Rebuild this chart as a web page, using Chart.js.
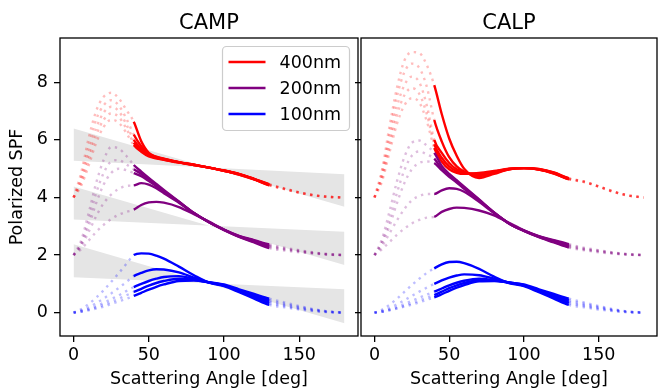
<!DOCTYPE html>
<html>
<head>
<meta charset="utf-8">
<script src="https://cdn.jsdelivr.net/npm/chart.js@4.4.1/dist/chart.umd.min.js"></script>
<style>
  body { margin: 0; background: #fff; }
  #wrap { position: relative; width: 658px; height: 390px; }
  canvas { position: absolute; top: 0; }
</style>
</head>
<body>
<div id="wrap">
  <canvas id="camp" width="360" height="390" style="left:0px"></canvas>
  <canvas id="calp" width="318" height="390" style="left:340px"></canvas>
</div>
<script>
// scattering angles shared by every curve [deg]
var angles = [0, 5, 10, 15, 20, 25, 30, 35, 40, 45, 50, 55, 60, 70, 80, 90, 100, 110, 120, 130, 140, 150, 160, 170, 180];
var xTicks = [0, 50, 100, 150];
var yTicks = [0, 2, 4, 6, 8];

var sizes = ['400nm', '200nm', '100nm'];
var sizeColors = ['#ff0000', '#800080', '#0000ff'];

// CAMP : 400nm (offset +4)
var campRed = [
    [4, 4.85, 6.05, 7.0, 7.5, 7.64, 7.45, 7.05, 6.63, 5.95, 5.55, 5.42, 5.35, 5.23, 5.14, 5.04, 4.93, 4.8, 4.63, 4.42, 4.29, 4.16, 4.07, 4.02, 4.0],
    [4, 4.7, 5.75, 6.7, 7.2, 7.38, 7.2, 6.75, 6.19, 5.78, 5.52, 5.4, 5.34, 5.23, 5.14, 5.04, 4.93, 4.8, 4.63, 4.43, 4.3, 4.17, 4.07, 4.02, 4.0],
    [4, 4.6, 5.5, 6.4, 6.95, 7.15, 7.0, 6.55, 6.0, 5.7, 5.49, 5.39, 5.33, 5.22, 5.13, 5.04, 4.93, 4.81, 4.64, 4.44, 4.3, 4.17, 4.08, 4.02, 4.0],
    [4, 4.5, 5.3, 6.15, 6.7, 6.92, 6.8, 6.4, 5.9, 5.64, 5.46, 5.37, 5.32, 5.22, 5.13, 5.04, 4.93, 4.81, 4.64, 4.45, 4.31, 4.18, 4.08, 4.02, 4.0],
    [4, 4.4, 5.1, 5.9, 6.45, 6.7, 6.6, 6.25, 5.82, 5.59, 5.43, 5.36, 5.31, 5.21, 5.13, 5.04, 4.94, 4.82, 4.65, 4.46, 4.32, 4.18, 4.08, 4.02, 4.0]
];
// CAMP : 200nm (offset +2)
var campPurple = [
    [2, 2.5, 3.45, 4.5, 5.3, 5.75, 5.7, 5.45, 5.13, 4.9, 4.68, 4.47, 4.26, 3.86, 3.46, 3.14, 2.87, 2.63, 2.44, 2.24, 2.16, 2.1, 2.05, 2.01, 2.0],
    [2, 2.4, 3.2, 4.15, 4.85, 5.25, 5.3, 5.15, 4.98, 4.82, 4.62, 4.43, 4.23, 3.85, 3.46, 3.14, 2.87, 2.64, 2.46, 2.28, 2.19, 2.12, 2.06, 2.02, 2.0],
    [2, 2.35, 3.0, 3.8, 4.45, 4.85, 5.0, 4.95, 4.85, 4.74, 4.57, 4.39, 4.2, 3.84, 3.46, 3.14, 2.88, 2.65, 2.48, 2.31, 2.21, 2.14, 2.07, 2.02, 2.0],
    [2, 2.3, 2.8, 3.35, 3.8, 4.1, 4.3, 4.4, 4.42, 4.5, 4.45, 4.32, 4.15, 3.82, 3.45, 3.15, 2.88, 2.66, 2.5, 2.34, 2.23, 2.15, 2.08, 2.03, 2.0],
    [2, 2.2, 2.5, 2.8, 3.05, 3.25, 3.4, 3.5, 3.58, 3.74, 3.83, 3.85, 3.82, 3.67, 3.42, 3.16, 2.89, 2.67, 2.52, 2.37, 2.26, 2.17, 2.09, 2.03, 2.0]
];
// CAMP : 100nm (no offset)
var campBlue = [
    [0, 0.12, 0.3, 0.52, 0.78, 1.07, 1.37, 1.69, 2.0, 2.06, 2.05, 1.98, 1.88, 1.6, 1.3, 1.04, 0.92, 0.71, 0.49, 0.27, 0.19, 0.11, 0.05, 0.015, 0],
    [0, 0.08, 0.19, 0.33, 0.49, 0.67, 0.86, 1.06, 1.27, 1.38, 1.47, 1.51, 1.5, 1.4, 1.22, 1.05, 0.94, 0.74, 0.53, 0.33, 0.23, 0.14, 0.07, 0.02, 0],
    [0, 0.05, 0.13, 0.23, 0.34, 0.47, 0.6, 0.75, 0.89, 1.0, 1.1, 1.18, 1.24, 1.27, 1.17, 1.05, 0.95, 0.76, 0.57, 0.38, 0.27, 0.17, 0.09, 0.03, 0],
    [0, 0.04, 0.1, 0.18, 0.27, 0.37, 0.48, 0.6, 0.72, 0.83, 0.94, 1.03, 1.1, 1.18, 1.14, 1.05, 0.96, 0.78, 0.61, 0.43, 0.31, 0.2, 0.1, 0.035, 0],
    [0, 0.03, 0.08, 0.14, 0.21, 0.3, 0.39, 0.48, 0.58, 0.69, 0.8, 0.9, 0.98, 1.1, 1.12, 1.06, 0.98, 0.81, 0.65, 0.49, 0.36, 0.23, 0.12, 0.04, 0]
];

// CALP : 400nm
var calpRed = [
    [4, 4.95, 6.45, 7.8, 8.75, 9.05, 9.02, 8.6, 7.9, 6.9, 6.05, 5.45, 5.0, 4.68, 4.82, 4.98, 5.02, 4.97, 4.83, 4.63, 4.54, 4.37, 4.19, 4.06, 4.0],
    [4, 4.85, 6.2, 7.5, 8.35, 8.65, 8.5, 7.85, 6.69, 5.95, 5.4, 5.08, 4.9, 4.75, 4.85, 4.98, 5.02, 4.97, 4.84, 4.64, 4.55, 4.38, 4.2, 4.07, 4.0],
    [4, 4.75, 5.95, 7.15, 7.9, 8.2, 8.0, 7.2, 6.0, 5.55, 5.2, 4.98, 4.86, 4.8, 4.88, 4.99, 5.02, 4.98, 4.85, 4.65, 4.55, 4.38, 4.2, 4.07, 4.0],
    [4, 4.65, 5.75, 6.85, 7.55, 7.8, 7.6, 6.9, 5.85, 5.38, 5.08, 4.92, 4.85, 4.83, 4.9, 4.99, 5.02, 4.98, 4.86, 4.66, 4.56, 4.39, 4.21, 4.07, 4.0],
    [4, 4.55, 5.55, 6.55, 7.2, 7.45, 7.3, 6.65, 5.72, 5.25, 4.98, 4.86, 4.82, 4.85, 4.92, 5.0, 5.02, 4.99, 4.87, 4.67, 4.56, 4.39, 4.21, 4.07, 4.0]
];
// CALP : 200nm
var calpPurple = [
    [2, 2.55, 3.5, 4.55, 5.4, 5.9, 5.98, 5.8, 5.55, 5.1, 4.82, 4.6, 4.38, 3.93, 3.48, 3.1, 2.84, 2.62, 2.44, 2.26, 2.17, 2.1, 2.05, 2.01, 2.0],
    [2, 2.45, 3.2, 4.15, 4.95, 5.45, 5.6, 5.5, 5.35, 5.0, 4.76, 4.55, 4.34, 3.92, 3.48, 3.1, 2.84, 2.63, 2.46, 2.29, 2.19, 2.12, 2.06, 2.02, 2.0],
    [2, 2.4, 3.0, 3.8, 4.5, 4.98, 5.2, 5.25, 5.2, 4.95, 4.72, 4.52, 4.3, 3.9, 3.47, 3.1, 2.85, 2.64, 2.48, 2.32, 2.21, 2.14, 2.07, 2.02, 2.0],
    [2, 2.3, 2.75, 3.2, 3.6, 3.9, 4.05, 4.12, 4.12, 4.25, 4.32, 4.3, 4.2, 3.85, 3.46, 3.1, 2.85, 2.65, 2.5, 2.35, 2.23, 2.15, 2.08, 2.03, 2.0],
    [2, 2.2, 2.45, 2.7, 2.92, 3.1, 3.22, 3.3, 3.33, 3.5, 3.6, 3.65, 3.64, 3.55, 3.38, 3.12, 2.86, 2.66, 2.52, 2.38, 2.26, 2.17, 2.09, 2.03, 2.0]
];
// CALP : 100nm
var calpBlue = [
    [0, 0.1, 0.27, 0.48, 0.72, 0.96, 1.18, 1.38, 1.54, 1.68, 1.76, 1.77, 1.72, 1.52, 1.25, 1.03, 0.92, 0.71, 0.49, 0.27, 0.19, 0.11, 0.05, 0.015, 0],
    [0, 0.06, 0.16, 0.29, 0.43, 0.58, 0.73, 0.87, 1.0, 1.12, 1.22, 1.29, 1.33, 1.3, 1.18, 1.04, 0.94, 0.74, 0.53, 0.33, 0.23, 0.14, 0.07, 0.02, 0],
    [0, 0.04, 0.11, 0.2, 0.3, 0.41, 0.52, 0.63, 0.73, 0.84, 0.95, 1.04, 1.11, 1.18, 1.13, 1.04, 0.95, 0.76, 0.57, 0.38, 0.27, 0.17, 0.09, 0.03, 0],
    [0, 0.03, 0.09, 0.16, 0.24, 0.33, 0.42, 0.52, 0.61, 0.73, 0.85, 0.95, 1.03, 1.13, 1.12, 1.05, 0.96, 0.78, 0.61, 0.43, 0.31, 0.2, 0.1, 0.035, 0],
    [0, 0.03, 0.08, 0.14, 0.21, 0.28, 0.36, 0.45, 0.53, 0.64, 0.76, 0.87, 0.96, 1.09, 1.1, 1.05, 0.98, 0.81, 0.65, 0.49, 0.36, 0.23, 0.12, 0.04, 0]
];

// grey wedges behind the CAMP curves, two straight edges crossing near 90 deg
var wedgeAngles = [0, 180];
var wedgeSteep = [[6.4, 3.68], [4.38, 1.66], [2.38, -0.37]];
var wedgeFlat = [[5.28, 4.81], [3.24, 2.81], [1.23, 0.81]];

// only this angle range is drawn solid, the rest is a faint dotted line
var solidFrom = 40, solidTo = 130;

var FONT = '"DejaVu Sans", sans-serif';
Chart.defaults.font.family = FONT;
Chart.defaults.color = '#000';

function fade(hex, a) {
    var r = parseInt(hex.substr(1, 2), 16), g = parseInt(hex.substr(3, 2), 16), b = parseInt(hex.substr(5, 2), 16);
    return 'rgba(' + r + ',' + g + ',' + b + ',' + a + ')';
}

function isSolid(ctx) {
    return ctx.p0.parsed.x >= solidFrom && ctx.p1.parsed.x <= solidTo;
}

function curveDatasets(groups) {
    var sets = [];
    groups.forEach((curves, g) => {
        var col = sizeColors[g];
        var faded = fade(col, 0.26);
        for (const vals of curves) {
            sets.push({
                data: angles.map((a, i) => ({x: a, y: vals[i]})),
                borderColor: col,
                borderWidth: 2.4,
                pointRadius: 0,
                fill: false,
                cubicInterpolationMode: 'monotone',
                order: 3 - g,
                segment: {
                    borderColor: ctx => isSolid(ctx) ? col : faded,
                    borderDash: ctx => isSolid(ctx) ? [] : [2.4, 4.6]
                }
            });
        }
    });
    return sets;
}

function wedgeDatasets() {
    var sets = [];
    for (let k = 0; k < wedgeSteep.length; k++) {
        sets.push({
            data: wedgeAngles.map((a, i) => ({x: a, y: wedgeSteep[k][i]})),
            borderColor: 'rgba(0,0,0,0)',
            backgroundColor: '#e5e5e5',
            pointRadius: 0,
            fill: '+1',
            order: 10
        });
        sets.push({
            data: wedgeAngles.map((a, i) => ({x: a, y: wedgeFlat[k][i]})),
            borderColor: 'rgba(0,0,0,0)',
            pointRadius: 0,
            fill: false,
            order: 10
        });
    }
    return sets;
}

// axes box + panel title
var framePlugin = {
    id: 'frame',
    afterDraw(chart, args, opts) {
        const ctx = chart.ctx, a = chart.chartArea;
        ctx.save();
        ctx.strokeStyle = '#000';
        ctx.lineWidth = 1.3;
        ctx.strokeRect(a.left, a.top, a.right - a.left, a.bottom - a.top);
        ctx.fillStyle = '#000';
        ctx.font = '21px ' + FONT;
        ctx.textAlign = 'center';
        ctx.textBaseline = 'alphabetic';
        ctx.fillText(opts.title, (a.left + a.right) / 2, 29);
        ctx.restore();
    }
};

// legend box in the upper right corner of the CAMP panel
var boxLegend = {
    id: 'boxLegend',
    afterDraw(chart, args, opts) {
        if (!opts.show) return;
        const ctx = chart.ctx, a = chart.chartArea;
        const w = 127, h = 84, x0 = a.right - 8.5 - w, y0 = a.top + 8.5;
        ctx.save();
        ctx.beginPath();
        ctx.roundRect(x0, y0, w, h, 4);
        ctx.fillStyle = 'rgba(255,255,255,0.8)';
        ctx.fill();
        ctx.strokeStyle = '#cccccc';
        ctx.lineWidth = 1.2;
        ctx.stroke();
        ctx.font = '17.5px ' + FONT;
        ctx.textBaseline = 'middle';
        ctx.textAlign = 'left';
        sizes.forEach((lbl, i) => {
            const y = y0 + 15.5 + i * 26;
            ctx.strokeStyle = sizeColors[i];
            ctx.lineWidth = 2.6;
            ctx.beginPath();
            ctx.moveTo(x0 + 6, y);
            ctx.lineTo(x0 + 43, y);
            ctx.stroke();
            ctx.fillStyle = '#000';
            ctx.fillText(lbl, x0 + 57, y + 1);
        });
        ctx.restore();
    }
};

function makePanel(id, title, groups, withWedges, first) {
    var datasets = curveDatasets(groups);
    if (withWedges) datasets = datasets.concat(wedgeDatasets());

    return new Chart(id, {
        type: 'line',
        data: {datasets: datasets},
        plugins: [framePlugin, boxLegend],
        options: {
            responsive: false,
            animation: false,
            devicePixelRatio: 1,
            layout: {padding: {top: 38, right: first ? 2 : 1, left: 0, bottom: 0}},
            plugins: {
                legend: {display: false},
                tooltip: {enabled: false},
                frame: {title: title},
                boxLegend: {show: first}
            },
            scales: {
                x: {
                    type: 'linear', min: -9, max: 189,
                    afterBuildTicks: s => { s.ticks = xTicks.map(v => ({value: v})); },
                    afterFit: s => { s.height = 54; },
                    border: {display: false},
                    grid: {drawOnChartArea: false, drawTicks: true, tickLength: 6, color: '#000', lineWidth: 1.3},
                    ticks: {font: {size: 17.5}, padding: 3, maxRotation: 0, autoSkip: false},
                    title: {display: true, text: 'Scattering Angle [deg]', font: {size: 17.5}, padding: {top: 0, bottom: 0}}
                },
                y: {
                    type: 'linear', min: -0.81, max: 9.54,
                    afterBuildTicks: s => { s.ticks = yTicks.map(v => ({value: v})); },
                    afterFit: s => { s.width = first ? 60 : 21; },
                    border: {display: false},
                    grid: {drawOnChartArea: false, drawTicks: true, tickLength: 6, color: '#000', lineWidth: 1.3},
                    ticks: {display: first, font: {size: 17.5}, padding: 6, autoSkip: false},
                    title: {display: first, text: 'Polarized SPF', font: {size: 17.5}, padding: {top: 7, bottom: 0}}
                }
            }
        }
    });
}

makePanel('camp', 'CAMP', [campRed, campPurple, campBlue], true, true);
makePanel('calp', 'CALP', [calpRed, calpPurple, calpBlue], false, false);
</script>
</body>
</html>
